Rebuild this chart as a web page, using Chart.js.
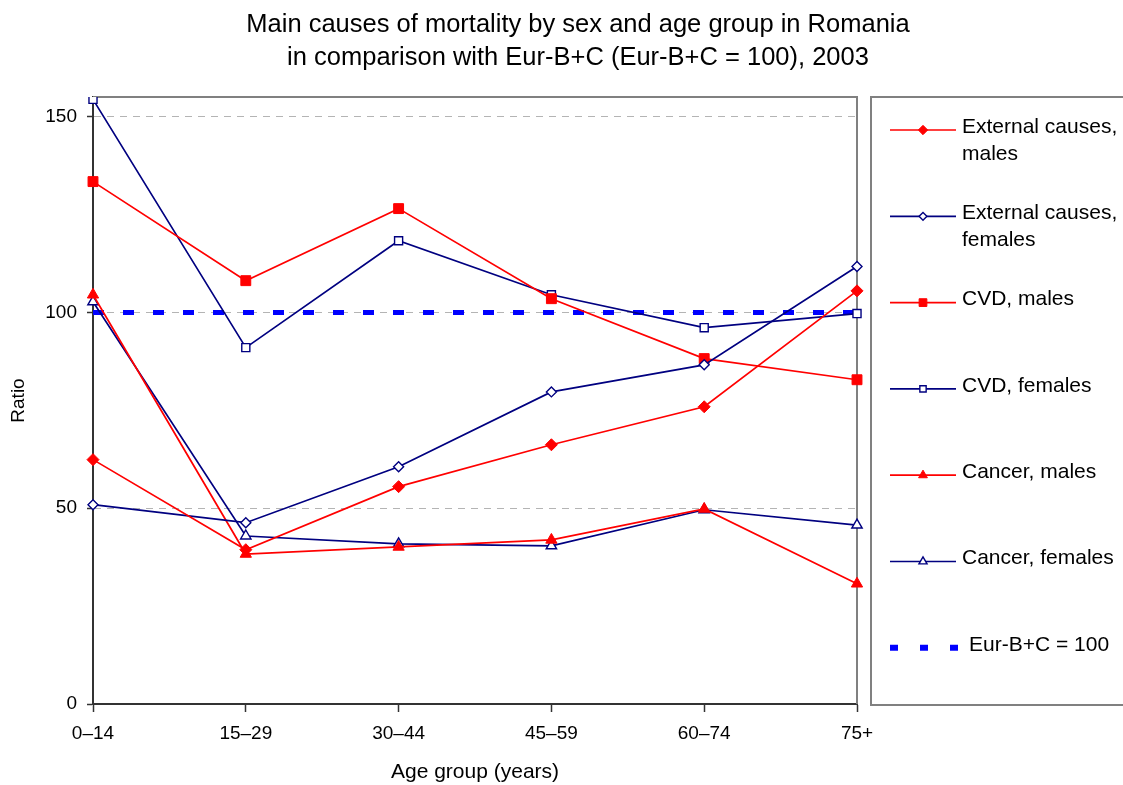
<!DOCTYPE html>
<html>
<head>
<meta charset="utf-8">
<title>Main causes of mortality by sex and age group in Romania</title>
<script src="https://cdn.jsdelivr.net/npm/chart.js@4.4.1/dist/chart.umd.min.js"></script>
<style>
  html, body { margin: 0; padding: 0; background: #fff; }
  #wrap { position: relative; width: 1123px; height: 785px; }
</style>
</head>
<body>
<div id="wrap"><canvas id="chart"></canvas></div>
<script>
// Chart values
const ageGroups = ["0–14", "15–29", "30–44", "45–59", "60–74", "75+"];
const externalMales = [62.4, 39.4, 55.5, 66.2, 75.9, 105.5];
const externalFemales = [50.9, 46.3, 60.6, 79.7, 86.6, 111.7];
const cvdMales = [133.4, 108.1, 126.5, 103.5, 88.2, 82.8];
const cvdFemales = [154.4, 91.0, 118.3, 104.5, 96.1, 99.7];
const cancerMales = [104.5, 38.3, 40.1, 41.9, 49.8, 30.7];
const cancerFemales = [102.7, 42.9, 40.9, 40.4, 49.6, 45.7];
const eurBC = [100, 100, 100, 100, 100, 100];
const yTicks = [0, 50, 100, 150];
const titleLines = [
    "Main causes of mortality by sex and age group in Romania",
    "in comparison with Eur-B+C (Eur-B+C = 100), 2003"
];

const RED = "#ff0000";
const NAVY = "#000080";
const FONT = "'Liberation Sans', Arial, sans-serif";

function series(lines, data, color, style, filled, radius) {
    return {
        label: lines.join(" "),
        legendLines: lines,
        data: data,
        borderColor: color,
        backgroundColor: color,
        borderWidth: 1.7,
        pointStyle: style,
        pointRadius: radius,
        pointHoverRadius: radius,
        pointBackgroundColor: filled ? color : "#ffffff",
        pointBorderColor: color,
        pointBorderWidth: filled ? 1 : 1.4,
        tension: 0
    };
}

const datasets = [
    series(["External causes,", "males"], externalMales, RED, "rectRot", true, 6),
    series(["External causes,", "females"], externalFemales, NAVY, "rectRot", false, 5),
    series(["CVD, males"], cvdMales, RED, "rect", true, 7),
    series(["CVD, females"], cvdFemales, NAVY, "rect", false, 5.7),
    series(["Cancer, males"], cancerMales, RED, "triangle", true, 6.5),
    series(["Cancer, females"], cancerFemales, NAVY, "triangle", false, 6),
    {
        label: "Eur-B+C = 100",
        legendLines: ["Eur-B+C = 100"],
        data: eurBC,
        borderColor: "#0000ff",
        borderWidth: 5,
        borderDash: [11, 19],
        borderCapStyle: "butt",
        pointRadius: 0,
        pointHoverRadius: 0,
        isReference: true
    }
];

// Title, plot frame and the boxed legend on the right
const decorations = {
    id: "decorations",
    beforeDatasetsDraw(chart) {
        const { ctx, chartArea: a } = chart;
        ctx.save();
        ctx.strokeStyle = "#808080";
        ctx.lineWidth = 2;
        ctx.beginPath();
        ctx.moveTo(a.left, a.top);
        ctx.lineTo(a.right, a.top);
        ctx.lineTo(a.right, a.bottom);
        ctx.stroke();
        ctx.restore();
    },
    afterDraw(chart) {
        const { ctx, chartArea: a } = chart;
        ctx.save();

        ctx.fillStyle = "#000";
        ctx.textAlign = "center";
        ctx.textBaseline = "middle";
        ctx.font = "25.5px " + FONT;
        titleLines.forEach((t, i) => ctx.fillText(t, 578, 25 + i * 33));

        const boxLeft = a.right + 14;
        ctx.strokeStyle = "#808080";
        ctx.lineWidth = 2;
        ctx.strokeRect(boxLeft, a.top, chart.width - boxLeft + 4, a.bottom - a.top + 1);

        ctx.font = "21px " + FONT;
        ctx.textAlign = "left";
        chart.data.datasets.forEach((ds, i) => {
            const y = a.top + 33 + i * 86.3;
            const x0 = a.right + 33;
            const x1 = a.right + 99;
            ctx.save();
            ctx.strokeStyle = ds.borderColor;
            if (ds.isReference) {
                ctx.lineWidth = 6;
                ctx.setLineDash([8, 22]);
                ctx.beginPath();
                ctx.moveTo(x0, y);
                ctx.lineTo(x1 + 2, y);
                ctx.stroke();
            } else {
                ctx.lineWidth = 1.7;
                ctx.beginPath();
                ctx.moveTo(x0, y);
                ctx.lineTo(x1, y);
                ctx.stroke();
                ctx.fillStyle = ds.pointBackgroundColor;
                ctx.lineWidth = ds.pointBorderWidth;
                Chart.helpers.drawPoint(ctx, {
                    pointStyle: ds.pointStyle,
                    radius: ds.pointRadius * 0.78,
                    rotation: 0,
                    borderWidth: ds.pointBorderWidth
                }, (x0 + x1) / 2, y);
            }
            ctx.restore();
            ctx.fillStyle = "#000";
            const tx = ds.isReference ? a.right + 112 : a.right + 105;
            ds.legendLines.forEach((line, j) => ctx.fillText(line, tx, y - 3 + j * 27));
        });
        ctx.restore();
    }
};

new Chart(document.getElementById("chart").getContext("2d"), {
    type: "line",
    data: { labels: ageGroups, datasets: datasets },
    options: {
        responsive: true,
        maintainAspectRatio: false,
        animation: false,
        layout: { padding: { top: 97, right: 266, left: 0, bottom: 0 } },
        plugins: {
            legend: { display: false },
            title: { display: false },
            tooltip: { enabled: false }
        },
        scales: {
            x: {
                offset: false,
                afterFit: s => { s.height = 81; },
                grid: {
                    drawOnChartArea: false,
                    drawTicks: true,
                    tickLength: 8,
                    tickColor: "#333",
                    tickWidth: 1.5
                },
                border: { color: "#333", width: 2 },
                ticks: {
                    color: "#000",
                    font: { family: FONT, size: 19 },
                    padding: 10,
                    maxRotation: 0,
                    autoSkip: false
                },
                title: {
                    display: true,
                    text: "Age group (years)",
                    color: "#000",
                    font: { family: FONT, size: 21 },
                    padding: { top: 0, bottom: 0 }
                }
            },
            y: {
                min: 0,
                max: 155,
                afterFit: s => { s.width = 93; },
                afterBuildTicks: s => {
                    s.ticks = yTicks.map(v => ({ value: v }));
                },
                grid: {
                    color: c => (c.tick && c.tick.value === 0) ? "rgba(0,0,0,0)" : "#b4b4b4",
                    lineWidth: 1,
                    drawTicks: true,
                    tickLength: 6,
                    tickColor: "#333",
                    tickWidth: 1.5,
                    tickBorderDash: []
                },
                border: { color: "#333", width: 2, dash: [7, 6] },
                ticks: {
                    color: "#000",
                    font: { family: FONT, size: 19 },
                    padding: 10
                },
                title: {
                    display: true,
                    text: "Ratio",
                    color: "#000",
                    font: { family: FONT, size: 19 },
                    padding: { top: 7, bottom: 0 }
                }
            }
        }
    },
    plugins: [decorations]
});
</script>
</body>
</html>
